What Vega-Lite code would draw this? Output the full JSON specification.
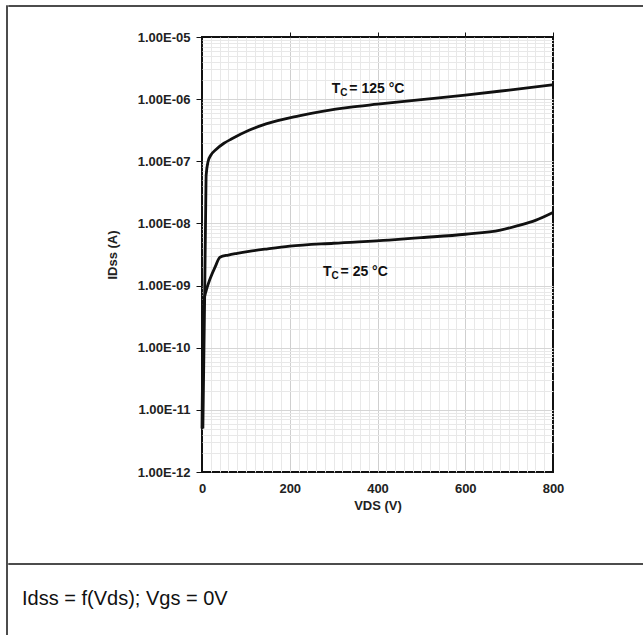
{
  "$schema": "https://vega.github.io/schema/vega-lite/v6.json",
  "padding": {"left": 6, "top": 5, "right": 0, "bottom": 0},
  "background": "white",
  "config": {
    "view": {"stroke": null},
    "font": "Liberation Sans",
    "axis": {"labelFont": "Liberation Sans", "titleFont": "Liberation Sans", "labelFontWeight": "bold", "titleFontWeight": "bold", "labelFontSize": 13, "titleFontSize": 13, "labelColor": "#222", "titleColor": "#222"}
  },
  "datasets": {
    "curves": [
      {"series": "125", "V": 2, "I": 5e-12},
      {"series": "125", "V": 6, "I": 6e-10},
      {"series": "125", "V": 8.5, "I": 2e-8},
      {"series": "125", "V": 9.5, "I": 6e-8},
      {"series": "125", "V": 14, "I": 1e-7},
      {"series": "125", "V": 20, "I": 1.25e-7},
      {"series": "125", "V": 32, "I": 1.55e-7},
      {"series": "125", "V": 50, "I": 1.95e-7},
      {"series": "125", "V": 68, "I": 2.3e-7},
      {"series": "125", "V": 107, "I": 3.15e-7},
      {"series": "125", "V": 146, "I": 4.0e-7},
      {"series": "125", "V": 221, "I": 5.4e-7},
      {"series": "125", "V": 335, "I": 7.4e-7},
      {"series": "125", "V": 400, "I": 8.3e-7},
      {"series": "125", "V": 500, "I": 9.8e-7},
      {"series": "125", "V": 600, "I": 1.16e-6},
      {"series": "125", "V": 700, "I": 1.4e-6},
      {"series": "125", "V": 800, "I": 1.7e-6},
      {"series": "25", "V": 0, "I": 5e-12},
      {"series": "25", "V": 4, "I": 5.4e-10},
      {"series": "25", "V": 10, "I": 8.5e-10},
      {"series": "25", "V": 18, "I": 1.26e-9},
      {"series": "25", "V": 30, "I": 2.0e-9},
      {"series": "25", "V": 41, "I": 2.85e-9},
      {"series": "25", "V": 60, "I": 3.1e-9},
      {"series": "25", "V": 80, "I": 3.3e-9},
      {"series": "25", "V": 107, "I": 3.55e-9},
      {"series": "25", "V": 150, "I": 3.9e-9},
      {"series": "25", "V": 200, "I": 4.3e-9},
      {"series": "25", "V": 300, "I": 4.8e-9},
      {"series": "25", "V": 426, "I": 5.4e-9},
      {"series": "25", "V": 500, "I": 5.9e-9},
      {"series": "25", "V": 600, "I": 6.7e-9},
      {"series": "25", "V": 680, "I": 7.8e-9},
      {"series": "25", "V": 720, "I": 9.2e-9},
      {"series": "25", "V": 760, "I": 1.12e-8},
      {"series": "25", "V": 800, "I": 1.5e-8}
    ],
    "notes": [
      {"V": 296, "I": 1.46e-6, "t": "T", "s": "C", "r": "= 125 °C"},
      {"V": 276, "I": 1.64e-9, "t": "T", "s": "C", "r": "= 25 °C"}
    ]
  },
  "spacing": 0,
  "hconcat": [
    {
      "width": 0.001, "height": 640,
      "data": {"values": []},
      "mark": "point",
      "encoding": {},
      "view": {"stroke": "#111", "strokeWidth": 1.5}
    },
    {
      "spacing": 50,
      "vconcat": [
        {
          "spacing": 23,
          "vconcat": [
            {
              "width": 640, "height": 0.001,
              "data": {"values": []},
              "mark": "point",
              "encoding": {},
              "view": {"stroke": "#111", "strokeWidth": 1.5}
            },
            {
              "spacing": 0,
              "hconcat": [
                {
                  "width": 96, "height": 0.001,
                  "data": {"values": []},
                  "mark": "point",
                  "encoding": {}
                },
                {
                  "width": 351, "height": 435,
                  "view": {"stroke": "#111", "strokeWidth": 2},
                  "layer": [
                    {
                      "data": {"name": "curves"},
                      "mark": {"type": "line", "color": "#111", "strokeWidth": 2.8, "interpolate": "monotone"},
                      "encoding": {
                        "x": {
                          "field": "V", "type": "quantitative",
                          "scale": {"domain": [0, 800], "nice": false, "zero": false},
                          "axis": {
                            "title": "VDS (V)",
                            "values": [0,20,40,60,80,100,120,140,160,180,200,220,240,260,280,300,320,340,360,380,400,420,440,460,480,500,520,540,560,580,600,620,640,660,680,700,720,740,760,780,800],
                            "labelExpr": "datum.value % 200 === 0 ? datum.label : ''",
                            "ticks": false,
                            "domain": false,
                            "labelPadding": 10,
                            "titlePadding": 4,
                            "labelFlush": false,
                            "labelOverlap": false,
                            "grid": true,
                            "gridColor": {"condition": {"test": "datum.value % 200 === 0", "value": "#cfcfcf"}, "value": "#e8e8e8"},
                            "gridOpacity": {"condition": {"test": "datum.value === 0 || datum.value === 800", "value": 0}, "value": 1}
                          }
                        },
                        "y": {
                          "field": "I", "type": "quantitative",
                          "scale": {"type": "log", "domain": [1e-12, 1e-5], "nice": false},
                          "axis": {
                            "title": "IDss (A)",
                            "values": [1e-12,2e-12,3e-12,4e-12,5e-12,6e-12,7e-12,8e-12,9e-12,1e-11,2e-11,3e-11,4e-11,5e-11,6e-11,7e-11,8e-11,9e-11,1e-10,2e-10,3e-10,4e-10,5e-10,6e-10,7e-10,8e-10,9e-10,1e-9,2e-9,3e-9,4e-9,5e-9,6e-9,7e-9,8e-9,9e-9,1e-8,2e-8,3e-8,4e-8,5e-8,6e-8,7e-8,8e-8,9e-8,1e-7,2e-7,3e-7,4e-7,5e-7,6e-7,7e-7,8e-7,9e-7,1e-6,2e-6,3e-6,4e-6,5e-6,6e-6,7e-6,8e-6,9e-6,1e-5],
                            "labelExpr": "abs(log(datum.value)/LN10 - round(log(datum.value)/LN10)) < 0.001 ? '1.00E-' + (round(-log(datum.value)/LN10) < 10 ? '0' : '') + round(-log(datum.value)/LN10) : ''",
                            "tickOpacity": {"condition": {"test": "abs(log(datum.value)/LN10 - round(log(datum.value)/LN10)) < 0.001", "value": 1}, "value": 0},
                            "tickSize": 6,
                            "tickColor": "#111",
                            "domain": false,
                            "labelPadding": 6,
                            "titlePadding": 18,
                            "labelOverlap": false,
                            "labelFlush": false,
                            "grid": true,
                            "gridColor": {"condition": {"test": "abs(log(datum.value)/LN10 - round(log(datum.value)/LN10)) < 0.001", "value": "#d6d6d6"}, "value": "#e8e8e8"},
                            "gridOpacity": {"condition": {"test": "datum.value < 1.001e-12 || datum.value > 0.999e-5", "value": 0}, "value": 1}
                          }
                        },
                        "detail": {"field": "series"}
                      }
                    },
                    {
                      "data": {"name": "notes"},
                      "encoding": {
                        "x": {
                          "field": "V", "type": "quantitative",
                          "scale": {"domain": [0, 800], "nice": false, "zero": false},
                          "axis": {"orient": "top", "values": [200, 400, 600, 800], "labels": false, "domain": false, "grid": false, "ticks": true, "tickSize": 5, "tickColor": "#111", "title": null}
                        },
                        "y": {
                          "field": "I", "type": "quantitative",
                          "scale": {"type": "log", "domain": [1e-12, 1e-5], "nice": false},
                          "axis": {"title": "IDss (A)"}
                        }
                      },
                      "layer": [
                        {"mark": {"type": "text", "align": "left", "baseline": "middle", "fontSize": 14, "fontWeight": "bold", "font": "Liberation Sans", "color": "#111"}, "encoding": {"text": {"field": "t"}}},
                        {"mark": {"type": "text", "align": "left", "baseline": "middle", "fontSize": 10, "fontWeight": "bold", "font": "Liberation Sans", "color": "#111", "dx": 8.5, "dy": 4}, "encoding": {"text": {"field": "s"}}},
                        {"mark": {"type": "text", "align": "left", "baseline": "middle", "fontSize": 14, "fontWeight": "bold", "font": "Liberation Sans", "color": "#111", "dx": 17.5}, "encoding": {"text": {"field": "r"}}}
                      ]
                    }
                  ],
                  "resolve": {"axis": {"x": "independent"}}
                }
              ]
            }
          ]
        },
        {
          "width": 640, "height": 0.001,
          "data": {"values": []},
          "mark": "point",
          "encoding": {},
          "view": {"stroke": "#111", "strokeWidth": 1.5},
          "title": {"text": "Idss = f(Vds); Vgs = 0V", "orient": "bottom", "anchor": "start", "offset": 25, "dx": 13, "fontSize": 20, "fontWeight": "normal", "font": "Liberation Sans", "color": "#111"}
        }
      ]
    }
  ]
}
